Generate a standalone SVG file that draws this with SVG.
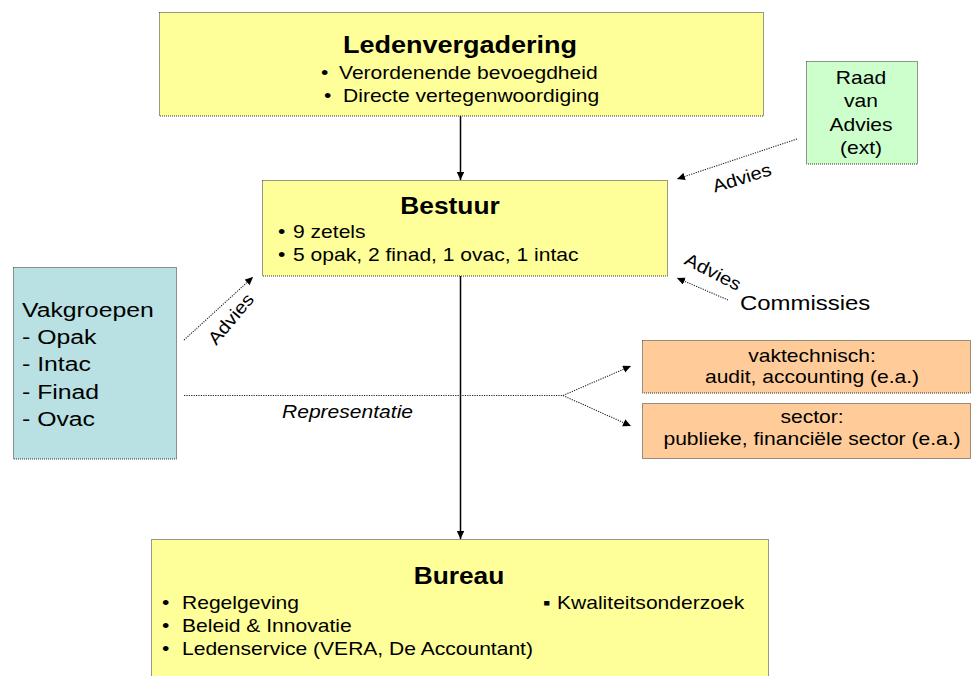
<svg xmlns="http://www.w3.org/2000/svg" width="976" height="676" viewBox="0 0 976 676">
  <style>
    .box { stroke: #333; stroke-width: 1; stroke-dasharray: 1 1; }
    .yellow { fill: #FFFF99; }
    .green { fill: #CCFFCC; }
    .teal { fill: #B9E0E2; }
    .orange { fill: #FFCC99; }
    text { font-family: "Liberation Sans", Arial, sans-serif; font-size: 18px; fill: #000; }
    .head { font-weight: bold; font-size: 23.5px; }
    .big { font-size: 21px; }
    .lbl { font-size: 18px; }
    .mid { text-anchor: middle; }
    .ital { font-style: italic; }
    .solid { stroke: #000; stroke-width: 1.5; fill: none; }
    .dot { stroke: #222; stroke-width: 1.1; stroke-dasharray: 1.2 1.2; fill: none; }
  </style>
  <defs>
    <marker id="arrow" markerUnits="userSpaceOnUse" markerWidth="9" markerHeight="8" refX="8" refY="3.75" orient="auto">
      <path d="M0,0 L8,3.75 L0,7.5 z" fill="#000"/>
    </marker>
  </defs>

  <rect width="976" height="676" fill="#fff"/>

  <!-- connectors -->
  <g id="connectors">
    <line class="solid" x1="460.5" y1="116" x2="460.5" y2="180" marker-end="url(#arrow)"/>
    <line class="solid" x1="460.5" y1="276" x2="460.5" y2="539" marker-end="url(#arrow)"/>
    <line class="dot" x1="797" y1="139" x2="677" y2="179" marker-end="url(#arrow)"/>
    <line class="dot" x1="728" y1="300" x2="677" y2="278" marker-end="url(#arrow)"/>
    <line class="dot" x1="184" y1="340" x2="253" y2="277" marker-end="url(#arrow)"/>
    <line class="dot" x1="184" y1="395.5" x2="563" y2="395.5"/>
    <line class="dot" x1="563" y1="395.5" x2="631" y2="366" marker-end="url(#arrow)"/>
    <line class="dot" x1="563" y1="395.5" x2="631" y2="426" marker-end="url(#arrow)"/>
    <text class="lbl mid" transform="translate(742,178) rotate(-17) scale(1.12,1)" y="6">Advies</text>
    <text class="lbl mid" transform="translate(713,272) rotate(27) scale(1.12,1)" y="6">Advies</text>
    <text class="lbl mid" transform="translate(231,319) rotate(-50) scale(1.12,1)" y="6">Advies</text>
    <text class="ital" transform="translate(282,418) scale(1.17,1)">Representatie</text>
  </g>

  <!-- Ledenvergadering -->
  <g id="ledenvergadering">
    <rect class="box yellow" x="159.5" y="12.5" width="604" height="103.5"/>
    <text class="head mid" transform="translate(460,53) scale(1.15,1)">Ledenvergadering</text>
    <text transform="translate(321,79) scale(1.17,1)">•</text>
    <text transform="translate(339,79) scale(1.17,1)">Verordenende bevoegdheid</text>
    <text transform="translate(324,102) scale(1.17,1)">•</text>
    <text transform="translate(343,102) scale(1.17,1)">Directe vertegenwoordiging</text>
  </g>

  <!-- Bestuur -->
  <g id="bestuur">
    <rect class="box yellow" x="262.5" y="180.5" width="405" height="95.5"/>
    <text class="head mid" transform="translate(450,214) scale(1.12,1)">Bestuur</text>
    <text transform="translate(278,238) scale(1.17,1)">•</text>
    <text transform="translate(293,238) scale(1.17,1)">9 zetels</text>
    <text transform="translate(278,261) scale(1.17,1)">•</text>
    <text transform="translate(293,261) scale(1.17,1)">5 opak, 2 finad, 1 ovac, 1 intac</text>
  </g>

  <!-- Raad van Advies -->
  <g id="raad-van-advies">
    <rect class="box green" x="806.5" y="61.5" width="111" height="102.5"/>
    <text class="mid" transform="translate(861,84) scale(1.17,1)">Raad</text>
    <text class="mid" transform="translate(861,107) scale(1.17,1)">van</text>
    <text class="mid" transform="translate(861,131) scale(1.17,1)">Advies</text>
    <text class="mid" transform="translate(861,154) scale(1.17,1)">(ext)</text>
  </g>

  <!-- Commissies -->
  <g id="commissies">
    <text class="big" transform="translate(740,310) scale(1.14,1)">Commissies</text>
  </g>

  <!-- Vakgroepen -->
  <g id="vakgroepen">
    <rect class="box teal" x="13.5" y="267.5" width="163" height="191.5"/>
    <text class="big" transform="translate(22,317) scale(1.18,1)">Vakgroepen</text>
    <text class="big" transform="translate(22,344) scale(1.18,1)">- Opak</text>
    <text class="big" transform="translate(22,371) scale(1.18,1)">- Intac</text>
    <text class="big" transform="translate(22,399) scale(1.18,1)">- Finad</text>
    <text class="big" transform="translate(22,426) scale(1.18,1)">- Ovac</text>
  </g>

  <!-- Representatie: vaktechnisch -->
  <g id="vaktechnisch">
    <rect class="box orange" x="642.5" y="340.5" width="328" height="52.5"/>
    <text class="mid" transform="translate(812,362) scale(1.17,1)">vaktechnisch:</text>
    <text class="mid" transform="translate(812,383) scale(1.17,1)">audit, accounting (e.a.)</text>
  </g>

  <!-- Representatie: sector -->
  <g id="sector">
    <rect class="box orange" x="642.5" y="403.5" width="328" height="55"/>
    <text class="mid" transform="translate(812,423) scale(1.17,1)">sector:</text>
    <text class="mid" transform="translate(812,445) scale(1.17,1)">publieke, financiële sector (e.a.)</text>
  </g>

  <!-- Bureau -->
  <g id="bureau">
    <rect class="box yellow" x="151.5" y="539.5" width="617" height="140"/>
    <text class="head mid" transform="translate(459,584) scale(1.12,1)">Bureau</text>
    <text transform="translate(162,609) scale(1.17,1)">•</text>
    <text transform="translate(182,609) scale(1.17,1)">Regelgeving</text>
    <text transform="translate(162,632) scale(1.17,1)">•</text>
    <text transform="translate(182,632) scale(1.17,1)">Beleid &amp; Innovatie</text>
    <text transform="translate(162,655) scale(1.17,1)">•</text>
    <text transform="translate(182,655) scale(1.17,1)">Ledenservice (VERA, De Accountant)</text>
    <text transform="translate(543,609) scale(1.17,1)">▪</text>
    <text transform="translate(557,609) scale(1.17,1)">Kwaliteitsonderzoek</text>
  </g>
</svg>
